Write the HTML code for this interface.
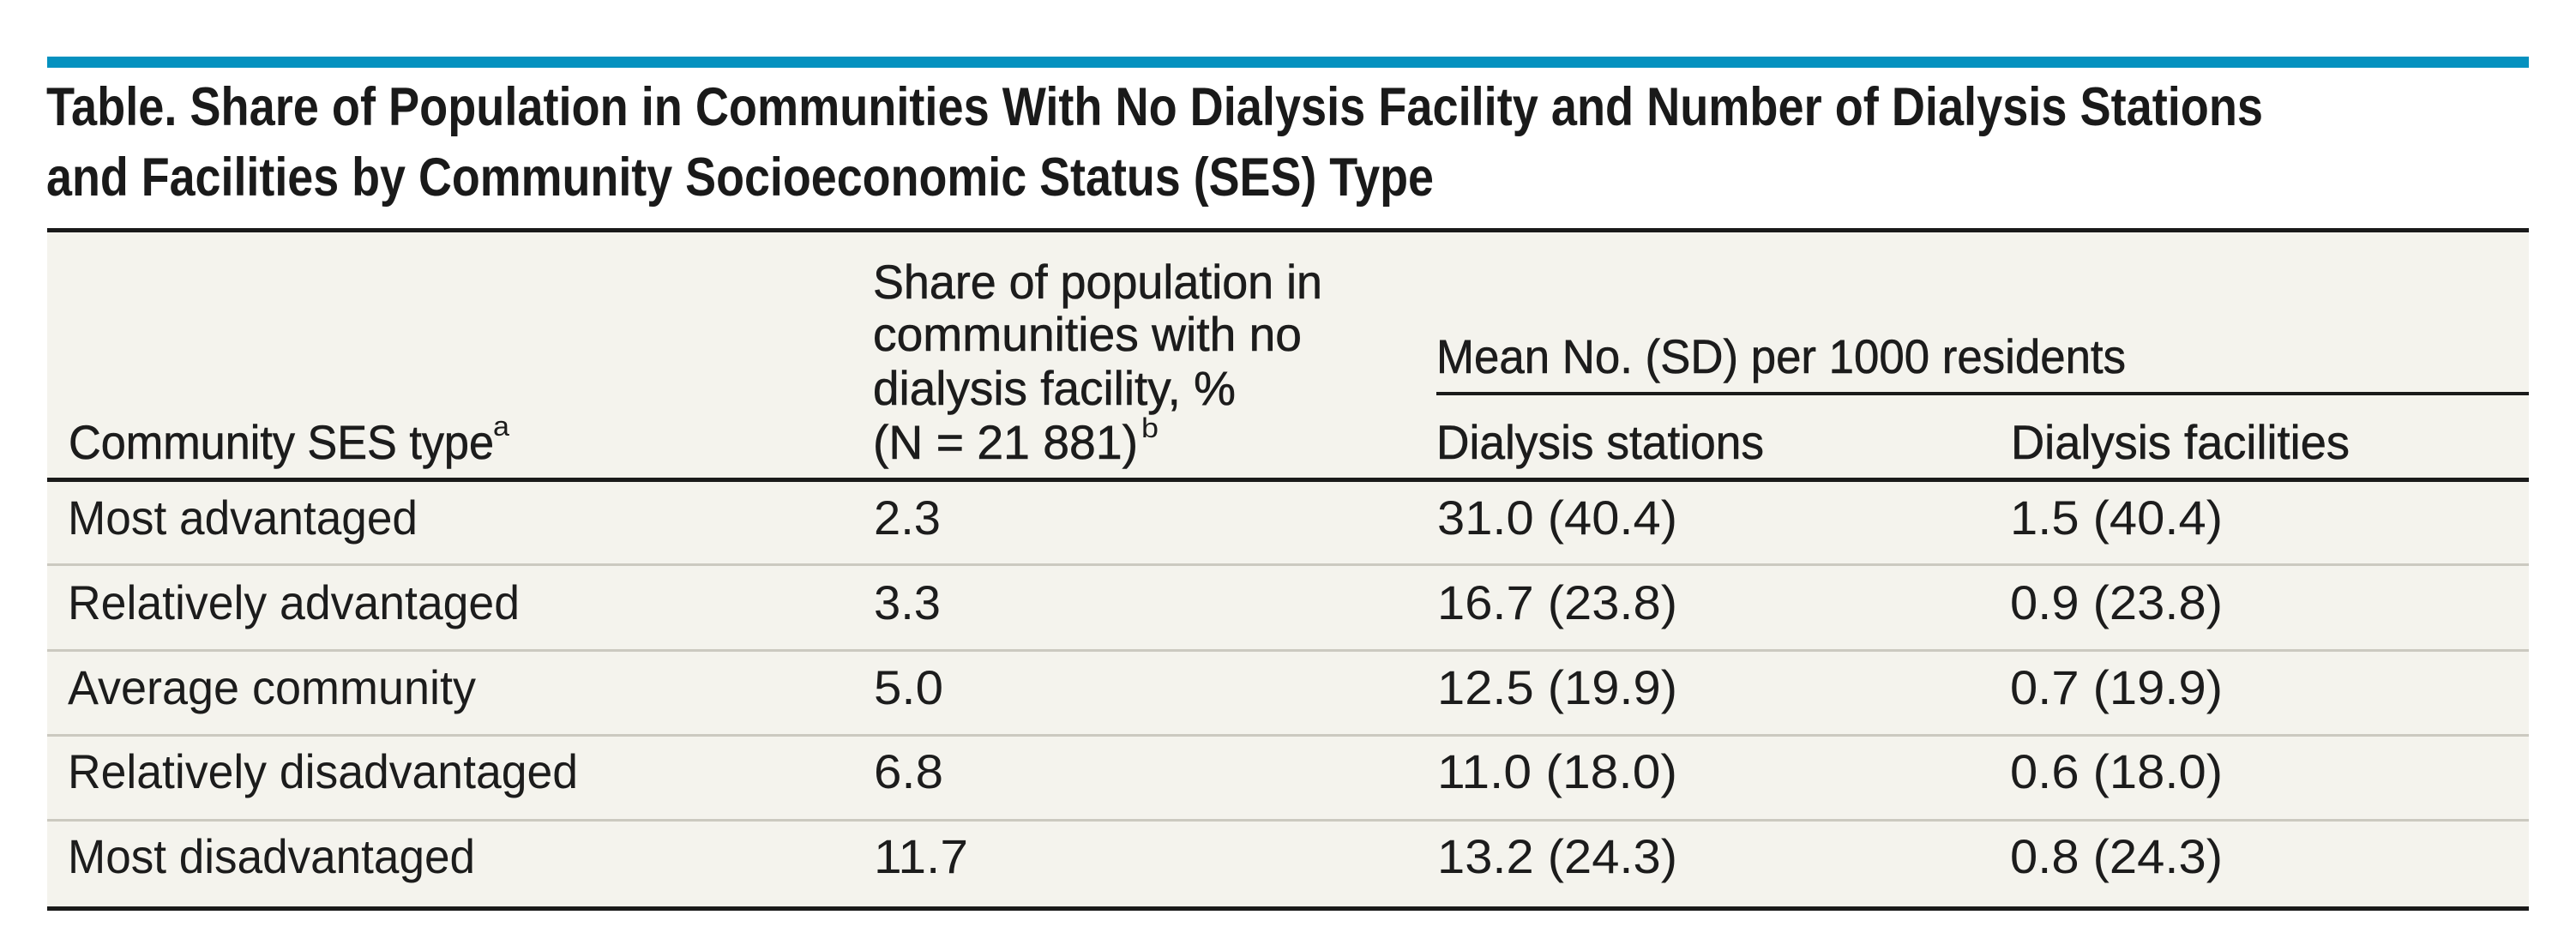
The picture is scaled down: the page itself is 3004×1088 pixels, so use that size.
<!DOCTYPE html>
<html>
<head>
<meta charset="utf-8">
<style>
html,body{margin:0;padding:0;background:#ffffff;}
body{width:3004px;height:1088px;overflow:hidden;}
svg{display:block;}
.t{font-family:"Liberation Sans",sans-serif;font-weight:bold;font-size:63px;fill:#1a1a1a;}
.b{font-family:"Liberation Sans",sans-serif;font-size:56px;fill:#1c1c1c;}
.h{font-family:"Liberation Sans",sans-serif;font-size:56px;fill:#1c1c1c;stroke:#1c1c1c;stroke-width:0.6px;}
.s{font-family:"Liberation Sans",sans-serif;font-size:32px;fill:#1c1c1c;}
</style>
</head>
<body>
<svg width="3004" height="1088" viewBox="0 0 3004 1088" xmlns="http://www.w3.org/2000/svg">
  <rect x="0" y="0" width="3004" height="1088" fill="#ffffff"/>
  <!-- blue bar -->
  <rect x="55" y="66" width="2894" height="13" fill="#0591bf"/>
  <!-- title -->
  <text class="t" x="54" y="146" textLength="2585" lengthAdjust="spacingAndGlyphs">Table. Share of Population in Communities With No Dialysis Facility and Number of Dialysis Stations</text>
  <text class="t" x="54" y="228" textLength="1618" lengthAdjust="spacingAndGlyphs">and Facilities by Community Socioeconomic Status (SES) Type</text>

  <!-- table background -->
  <rect x="55" y="268" width="2894" height="792" fill="#f4f3ed"/>
  <!-- top rule -->
  <rect x="55" y="266" width="2894" height="5" fill="#1a1a1a"/>
  <!-- rule under spanning header -->
  <rect x="1675" y="457" width="1274" height="4" fill="#1a1a1a"/>
  <!-- header bottom rule -->
  <rect x="55" y="557" width="2894" height="5" fill="#1a1a1a"/>
  <!-- row separators -->
  <rect x="55" y="657" width="2894" height="3" fill="#cbc9c0"/>
  <rect x="55" y="757" width="2894" height="3" fill="#cbc9c0"/>
  <rect x="55" y="856" width="2894" height="3" fill="#cbc9c0"/>
  <rect x="55" y="955" width="2894" height="3" fill="#cbc9c0"/>
  <!-- bottom rule -->
  <rect x="55" y="1057" width="2894" height="5" fill="#1a1a1a"/>

  <!-- header text -->
  <text class="h" x="1018" y="348" textLength="524" lengthAdjust="spacingAndGlyphs">Share of population in</text>
  <text class="h" x="1018" y="409" textLength="500" lengthAdjust="spacingAndGlyphs">communities with no</text>
  <text class="h" x="1018" y="472" textLength="423" lengthAdjust="spacingAndGlyphs">dialysis facility, %</text>
  <text class="h" x="1018" y="535" textLength="309" lengthAdjust="spacingAndGlyphs">(N = 21 881)</text>
  <text class="s" x="1331" y="510" textLength="20" lengthAdjust="spacingAndGlyphs">b</text>

  <text class="h" x="1675" y="435" textLength="804" lengthAdjust="spacingAndGlyphs">Mean No. (SD) per 1000 residents</text>
  <text class="h" x="1675" y="535" textLength="382" lengthAdjust="spacingAndGlyphs">Dialysis stations</text>
  <text class="h" x="2345" y="535" textLength="395" lengthAdjust="spacingAndGlyphs">Dialysis facilities</text>

  <text class="h" x="80" y="535" textLength="496" lengthAdjust="spacingAndGlyphs">Community SES type</text>
  <text class="s" x="575" y="508" textLength="19" lengthAdjust="spacingAndGlyphs">a</text>

  <!-- rows: column 1 -->
  <text class="b" x="79" y="623" textLength="408" lengthAdjust="spacingAndGlyphs">Most advantaged</text>
  <text class="b" x="79" y="722" textLength="527" lengthAdjust="spacingAndGlyphs">Relatively advantaged</text>
  <text class="b" x="79" y="821" textLength="476" lengthAdjust="spacingAndGlyphs">Average community</text>
  <text class="b" x="79" y="919" textLength="595" lengthAdjust="spacingAndGlyphs">Relatively disadvantaged</text>
  <text class="b" x="79" y="1018" textLength="475" lengthAdjust="spacingAndGlyphs">Most disadvantaged</text>

  <!-- column 2 -->
  <text class="b" x="1019" y="623" textLength="78" lengthAdjust="spacingAndGlyphs">2.3</text>
  <text class="b" x="1019" y="722" textLength="78" lengthAdjust="spacingAndGlyphs">3.3</text>
  <text class="b" x="1019" y="821" textLength="81" lengthAdjust="spacingAndGlyphs">5.0</text>
  <text class="b" x="1019" y="919" textLength="81" lengthAdjust="spacingAndGlyphs">6.8</text>
  <text class="b" x="1019" y="1018" textLength="110" lengthAdjust="spacingAndGlyphs">11.7</text>

  <!-- column 3 -->
  <text class="b" x="1676" y="623" textLength="280" lengthAdjust="spacingAndGlyphs">31.0 (40.4)</text>
  <text class="b" x="1676" y="722" textLength="280" lengthAdjust="spacingAndGlyphs">16.7 (23.8)</text>
  <text class="b" x="1676" y="821" textLength="280" lengthAdjust="spacingAndGlyphs">12.5 (19.9)</text>
  <text class="b" x="1676" y="919" textLength="280" lengthAdjust="spacingAndGlyphs">11.0 (18.0)</text>
  <text class="b" x="1676" y="1018" textLength="280" lengthAdjust="spacingAndGlyphs">13.2 (24.3)</text>

  <!-- column 4 -->
  <text class="b" x="2344" y="623" textLength="248" lengthAdjust="spacingAndGlyphs">1.5 (40.4)</text>
  <text class="b" x="2344" y="722" textLength="248" lengthAdjust="spacingAndGlyphs">0.9 (23.8)</text>
  <text class="b" x="2344" y="821" textLength="248" lengthAdjust="spacingAndGlyphs">0.7 (19.9)</text>
  <text class="b" x="2344" y="919" textLength="248" lengthAdjust="spacingAndGlyphs">0.6 (18.0)</text>
  <text class="b" x="2344" y="1018" textLength="248" lengthAdjust="spacingAndGlyphs">0.8 (24.3)</text>
</svg>
</body>
</html>
